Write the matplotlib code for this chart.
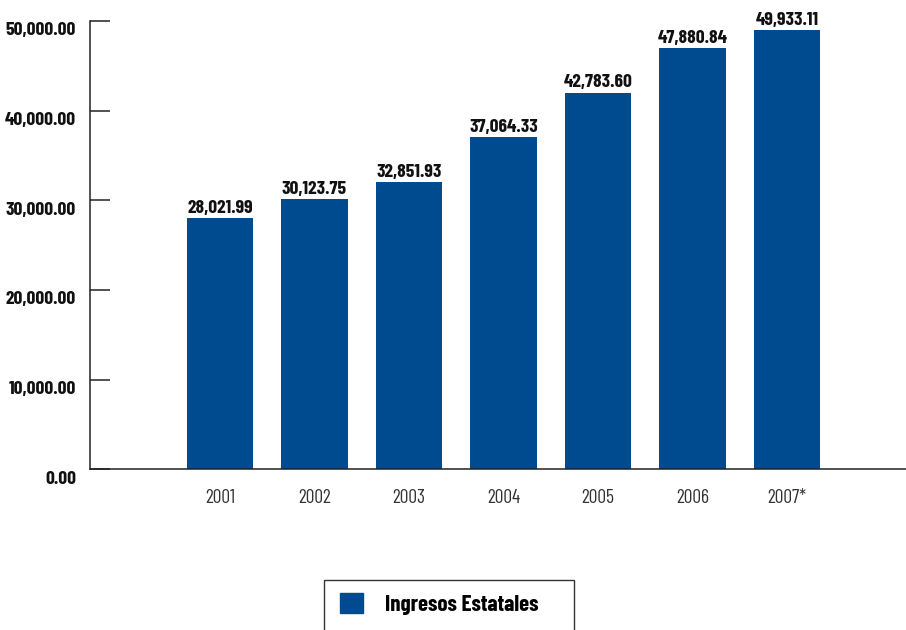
import matplotlib
matplotlib.use("Agg")
import matplotlib.pyplot as plt
import matplotlib.transforms as mtransforms
from matplotlib.patches import Rectangle, Patch
import numpy as np

plt.rcParams['font.family'] = ['Barlow Condensed', 'DejaVu Sans']

years = ["2001", "2002", "2003", "2004", "2005", "2006", "2007*"]
# heights as drawn in the picture, labels as printed above the bars
heights = [28022, 30124, 32000, 37064, 42000, 47000, 49000]
value_labels = ["28,021.99", "30,123.75", "32,851.93", "37,064.33",
                "42,783.60", "47,880.84", "49,933.11"]
y_ticks = [0, 10000, 20000, 30000, 40000, 50000]
series_name = "Ingresos Estatales"

bar_color = "#004A8F"
axis_color = "#222222"

fig = plt.figure(figsize=(9.06, 6.3), dpi=100)
ax = fig.add_axes([90 / 906, (630 - 469.3) / 630, 816 / 906, 448.3 / 630])

x = np.arange(len(years))
ax.bar(x, heights, width=0.7, color=bar_color, zorder=2)

for xi, h, lab in zip(x, heights, value_labels):
    ax.annotate(lab, (xi, h), xytext=(0, 1), textcoords="offset points",
                ha="center", va="bottom", fontsize=14, fontweight="bold",
                color="#111111")

ax.set_xlim(-1.376, 7.26)
ax.set_ylim(0, 50000)

ax.set_xticks(x)
ax.set_xticklabels(years, fontsize=14, color="#333333")
ax.tick_params(axis="x", length=0, pad=14)

ax.set_yticks(y_ticks)
ax.set_yticklabels([f"{v:,.2f}" for v in y_ticks], fontsize=14,
                   fontweight="bold", color="#111111")
ax.tick_params(axis="y", direction="in", length=14.4, width=1.1,
               color=axis_color, pad=10)
offset = mtransforms.ScaledTranslation(0, -8 / 100, fig.dpi_scale_trans)
for lbl in ax.get_yticklabels():
    lbl.set_transform(lbl.get_transform() + offset)

for side in ["top", "right"]:
    ax.spines[side].set_visible(False)
for side in ["left", "bottom"]:
    ax.spines[side].set_color(axis_color)
    ax.spines[side].set_linewidth(1.1)

# legend box, running off the bottom edge
fig.patches.append(Rectangle((324 / 906, -0.05), 250 / 906, (630 - 580) / 630 + 0.05,
                             transform=fig.transFigure, fill=False,
                             edgecolor="#333333", linewidth=1.0))
fig.legend(handles=[Patch(color=bar_color, label=series_name)],
           loc="center left", bbox_to_anchor=(319 / 906, (630 - 604) / 630),
           frameon=False, handlelength=1.0, handleheight=1.0,
           handletextpad=1.0, prop={"family": ["Barlow Condensed", "DejaVu Sans"],
                                    "weight": "bold", "size": 16.5})

fig.savefig("out.png", dpi=100)
